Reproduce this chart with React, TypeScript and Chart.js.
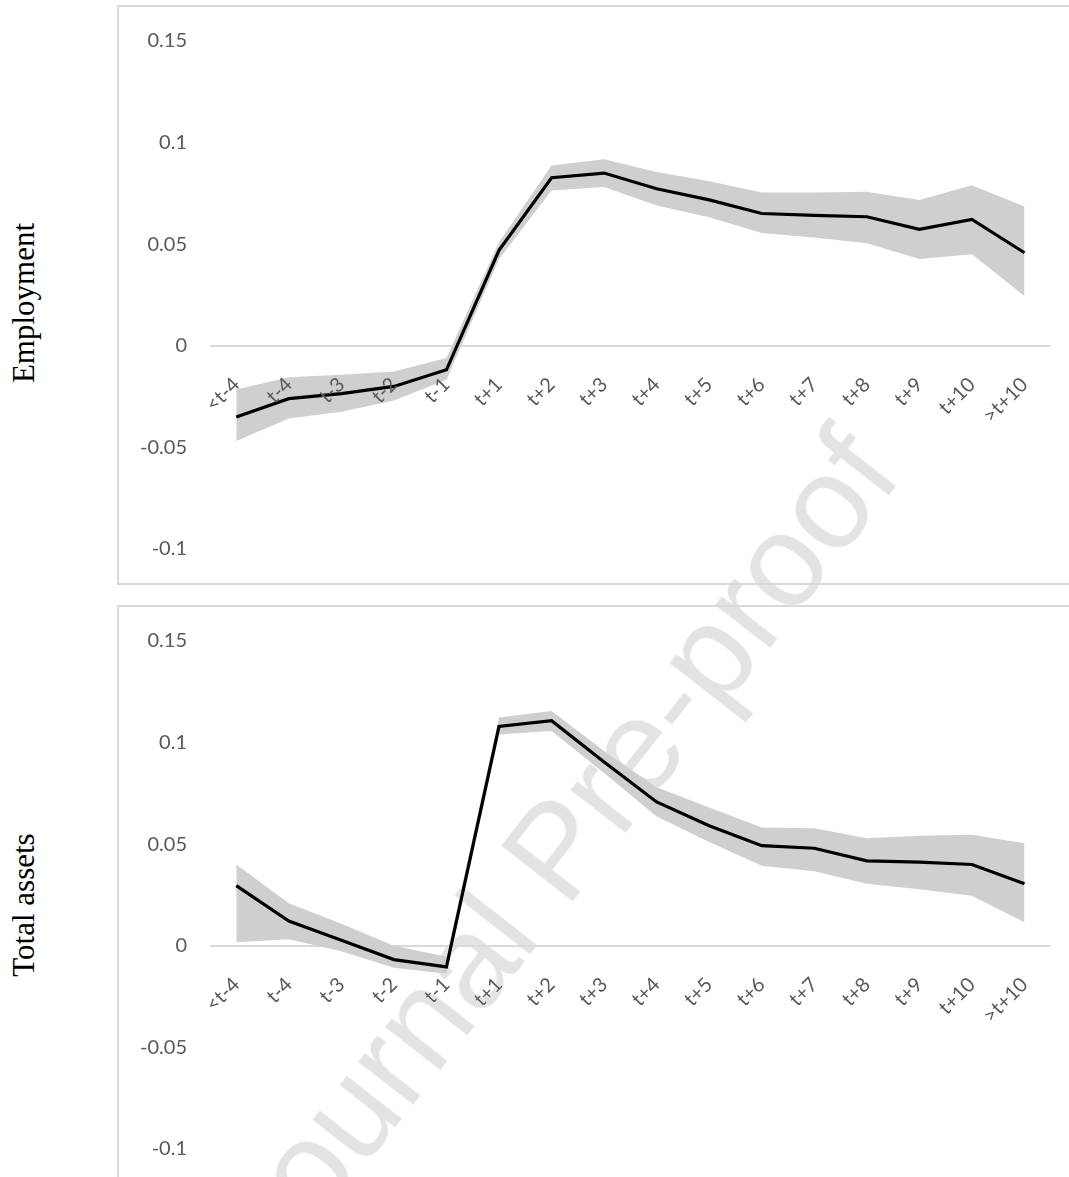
import React, { useEffect, useRef } from "react";
import { Chart, registerables } from "chart.js";

Chart.register(...registerables);

const categories = ["<t-4", "t-4", "t-3", "t-2", "t-1", "t+1", "t+2", "t+3", "t+4", "t+5", "t+6", "t+7", "t+8", "t+9", "t+10", ">t+10"];

const empCoef = [-0.035, -0.026, -0.0235, -0.020, -0.0118, 0.047, 0.0827, 0.085, 0.0773, 0.0718, 0.0651, 0.0642, 0.0635, 0.0573, 0.0622, 0.0458];
const empUpper = [-0.0215, -0.0155, -0.0142, -0.0127, -0.006, 0.051, 0.0887, 0.0918, 0.0855, 0.081, 0.0755, 0.0755, 0.0758, 0.0718, 0.079, 0.0685];
const empLower = [-0.0469, -0.0358, -0.0324, -0.0269, -0.0167, 0.0427, 0.0764, 0.0782, 0.069, 0.0633, 0.0555, 0.0533, 0.0505, 0.0427, 0.0451, 0.0245];

const taCoef = [0.0296, 0.0122, 0.0027, -0.0068, -0.0104, 0.108, 0.1108, 0.0905, 0.0708, 0.0591, 0.0493, 0.048, 0.0418, 0.0412, 0.040, 0.0305];
const taUpper = [0.040, 0.021, 0.0108, 0.0, -0.0054, 0.1124, 0.1156, 0.0959, 0.078, 0.0681, 0.0582, 0.0579, 0.0529, 0.0541, 0.0547, 0.0505];
const taLower = [0.0018, 0.0032, -0.0027, -0.0108, -0.0138, 0.104, 0.1057, 0.0851, 0.0636, 0.0511, 0.0394, 0.0367, 0.0305, 0.0278, 0.0246, 0.0116];

const yMin = -0.1;
const yMax = 0.15;
const yStep = 0.05;

const TICK_FONT = { family: "Lato, 'Open Sans', sans-serif", size: 20 };
const TICK_COLOR = "#595959";
const BAND_COLOR = "#d0cece";
const AXIS_COLOR = "#d9d9d9";

function makeConfig(coef: number[], upper: number[], lower: number[], padTop: number, padBottom: number): any {
  return {
    type: "line",
    data: {
      labels: categories,
      datasets: [
        {
          data: coef,
          borderColor: "#000000",
          borderWidth: 3.2,
          pointRadius: 0,
          tension: 0,
          fill: false,
        },
        {
          data: upper,
          borderColor: "transparent",
          borderWidth: 0,
          pointRadius: 0,
          tension: 0,
          backgroundColor: BAND_COLOR,
          fill: "+1",
        },
        {
          data: lower,
          borderColor: "transparent",
          borderWidth: 0,
          pointRadius: 0,
          tension: 0,
          fill: false,
        },
      ],
    },
    options: {
      animation: false,
      responsive: false,
      maintainAspectRatio: false,
      layout: { padding: { left: 0, right: 18, top: padTop, bottom: padBottom } },
      plugins: {
        legend: { display: false },
        tooltip: { enabled: false },
      },
      scales: {
        y: {
          type: "linear",
          min: yMin,
          max: yMax,
          afterFit: (scale: any) => {
            scale.width = 92;
          },
          ticks: {
            stepSize: yStep,
            padding: 23,
            color: TICK_COLOR,
            font: TICK_FONT,
            callback: (v: any) => String(Number(Number(v).toFixed(2))),
          },
          grid: {
            display: true,
            drawTicks: false,
            tickLength: 0,
            lineWidth: 2,
            color: (ctx: any) => (ctx.tick && Math.abs(ctx.tick.value) < 1e-9 ? AXIS_COLOR : "rgba(0,0,0,0)"),
          },
          border: { display: false },
        },
        x: {
          type: "category",
          position: { y: 0 },
          offset: true,
          ticks: {
            z: 1,
            minRotation: 45,
            maxRotation: 45,
            autoSkip: false,
            padding: 27,
            color: TICK_COLOR,
            font: TICK_FONT,
          },
          grid: { display: false, drawTicks: false, tickLength: 0 },
          border: { display: false },
        },
      },
    },
  };
}

function Panel(props: { top: number; coef: number[]; upper: number[]; lower: number[]; padTop: number; padBottom: number }) {
  const ref = useRef<HTMLCanvasElement | null>(null);
  useEffect(() => {
    if (!ref.current) return;
    const chart = new Chart(ref.current, makeConfig(props.coef, props.upper, props.lower, props.padTop, props.padBottom));
    return () => chart.destroy();
  }, []);
  return (
    <>
      <div
        style={{
          position: "absolute",
          left: 117,
          top: props.top - 1,
          width: 1000,
          height: 580,
          border: `2px solid ${AXIS_COLOR}`,
          boxSizing: "border-box",
        }}
      />
      <canvas
        ref={ref}
        width={951}
        height={578}
        style={{ position: "absolute", left: 118, top: props.top, width: 951, height: 578 }}
      />
    </>
  );
}

function SideLabel(props: { text: string; cy: number }) {
  return (
    <div
      style={{
        position: "absolute",
        left: 23,
        top: props.cy,
        transform: "translate(-50%, -50%) rotate(-90deg)",
        fontFamily: "'Liberation Serif', 'Times New Roman', serif",
        fontSize: 31,
        lineHeight: 1,
        whiteSpace: "nowrap",
        color: "#000",
      }}
    >
      {props.text}
    </div>
  );
}

export default function App() {
  return (
    <div
      style={{
        position: "fixed",
        left: 0,
        top: 0,
        width: 1069,
        height: 1177,
        overflow: "hidden",
        background: "#ffffff",
      }}
    >
      <Panel top={6} coef={empCoef} upper={empUpper} lower={empLower} padTop={31.6} padBottom={29.5} />
      <Panel top={606} coef={taCoef} upper={taUpper} lower={taLower} padTop={29.1} padBottom={28.5} />
      <SideLabel text="Employment" cy={303} />
      <SideLabel text="Total assets" cy={905} />
      <div
        style={{
          position: "absolute",
          left: 555,
          top: 850,
          transform: "translate(-50%, -50%) rotate(-52deg)",
          fontFamily: "'Liberation Sans', Arial, sans-serif",
          fontSize: 132,
          lineHeight: 1,
          whiteSpace: "nowrap",
          color: "#e3e3e3",
          mixBlendMode: "darken",
          pointerEvents: "none",
        }}
      >
        Journal Pre-proof
      </div>
    </div>
  );
}
